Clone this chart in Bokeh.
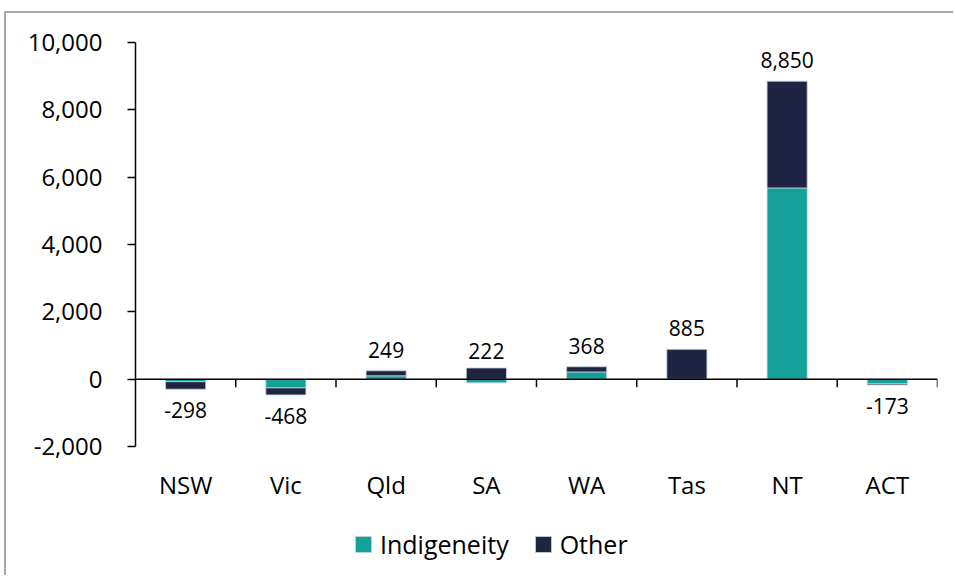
from bokeh.plotting import figure
from bokeh.models import (Range1d, FixedTicker, NumeralTickFormatter, Span, Legend, LegendItem)
from bokeh.embed import file_html
from bokeh.resources import INLINE
from bokeh.core.properties import value

# ---- data ----
states = ["NSW", "Vic", "Qld", "SA", "WA", "Tas", "NT", "ACT"]
indigeneity = [-75, -260, 100, -110, 215, 0, 5680, -140]
other = [-223, -208, 149, 332, 153, 885, 3170, -33]
totals = [-298, -468, 249, 222, 368, 885, 8850, -173]
total_labels = ["-298", "-468", "249", "222", "368", "885", "8,850", "-173"]
y_ticks = [-2000, 0, 2000, 4000, 6000, 8000, 10000]

TEAL = "#14A19A"
NAVY = "#1F2442"
FONT = "Open Sans"

# ---- layout (page pixels) ----
OX, OY = 6, 13                 # canvas origin on the page (after frame border)
W, H = 955 - OX, 577 - OY
PLOT_L, PLOT_R, PLOT_T, PLOT_B = 135, 937, 42, 446   # value-axis area
FRAME_B = 576                                         # frame extended to hold the legend
px_per_unit = (PLOT_B - PLOT_T) / (y_ticks[-1] - y_ticks[0])
y_low = y_ticks[0] - (FRAME_B - PLOT_B) / px_per_unit

p = figure(width=W, height=H, output_backend="svg", toolbar_location=None,
           x_range=Range1d(0, len(states)), y_range=Range1d(y_low, y_ticks[-1]),
           min_border_left=PLOT_L - OX, min_border_right=955 - PLOT_R, min_border_top=PLOT_T - OY,
           min_border_bottom=577 - FRAME_B)
p.outline_line_color = None
p.xgrid.visible = False
p.ygrid.visible = False
p.xaxis.visible = False
p.background_fill_color = "white"
p.border_fill_color = "white"
p.styles = {"margin-left": "4px", "margin-top": "11px",
            "border-left": "2px solid #a6a6a6", "border-top": "2px solid #a6a6a6"}

# Excel-like stacking (positives and negatives stacked separately)
xs = [i + 0.5 for i in range(len(states))]
pos = [0.0] * len(states)
neg = [0.0] * len(states)
stacks = {}
for name, vals in (("Indigeneity", indigeneity), ("Other", other)):
    bot, top = [], []
    for i, v in enumerate(vals):
        if v >= 0:
            bot.append(pos[i]); top.append(pos[i] + v); pos[i] += v
        else:
            bot.append(neg[i]); top.append(neg[i] + v); neg[i] += v
    stacks[name] = (bot, top)

r_ind = p.vbar(x=xs, bottom=stacks["Indigeneity"][0], top=stacks["Indigeneity"][1], width=0.4,
               fill_color=TEAL, line_color="#c9cfdc", line_width=0.8)
r_oth = p.vbar(x=xs, bottom=stacks["Other"][0], top=stacks["Other"][1], width=0.4,
               fill_color=NAVY, line_color="#c9cfdc", line_width=0.8)

# zero line with category boundary ticks
p.add_layout(Span(location=0, dimension="width", line_color="black", line_width=1.5))
tick_len = 8 / px_per_unit
bx = list(range(1, len(states) + 1))
p.segment(x0=bx, y0=[0] * len(bx), x1=bx, y1=[-tick_len] * len(bx), line_color="black", line_width=1.5)

# data labels
pos_idx = [i for i, t in enumerate(totals) if t >= 0]
neg_idx = [i for i, t in enumerate(totals) if t < 0]
p.text(x=[xs[i] for i in pos_idx], y=[totals[i] for i in pos_idx], text=[total_labels[i] for i in pos_idx],
       text_align="center", text_baseline="middle", y_offset=-21, text_font=value(FONT),
       text_font_size="21px", text_color="black")
p.text(x=[xs[i] for i in neg_idx], y=[totals[i] for i in neg_idx], text=[total_labels[i] for i in neg_idx],
       text_align="center", text_baseline="middle", y_offset=21, text_font=value(FONT),
       text_font_size="21px", text_color="black")

# category labels (low position, under the value axis minimum)
p.text(x=xs, y=[y_ticks[0]] * len(xs), text=states, text_align="center", text_baseline="middle",
       y_offset=38, text_font=value(FONT), text_font_size="24px", text_color="black")

# y axis
ya = p.yaxis[0]
ya.bounds = (y_ticks[0], y_ticks[-1])
ya.ticker = FixedTicker(ticks=y_ticks)
ya.formatter = NumeralTickFormatter(format="0,0")
ya.axis_line_color = "black"
ya.axis_line_width = 1.5
ya.major_tick_line_color = "black"
ya.major_tick_line_width = 1.5
ya.major_tick_out = 8
ya.major_tick_in = 0
ya.minor_tick_line_color = None
ya.major_label_standoff = 25
ya.major_label_text_font = FONT
ya.major_label_text_font_size = "24px"
ya.major_label_text_color = "black"

legend = Legend(items=[LegendItem(label="Indigeneity", renderers=[r_ind]),
                       LegendItem(label="Other", renderers=[r_oth])],
                orientation="horizontal", location=(218, 15),
                glyph_width=20, glyph_height=20, label_standoff=7, spacing=24,
                label_text_font=FONT, label_text_font_size="25px", label_text_color="black",
                border_line_color=None, background_fill_alpha=0, padding=10, margin=0)
p.add_layout(legend, "center")

open("out.html", "w").write(file_html(p, INLINE))
